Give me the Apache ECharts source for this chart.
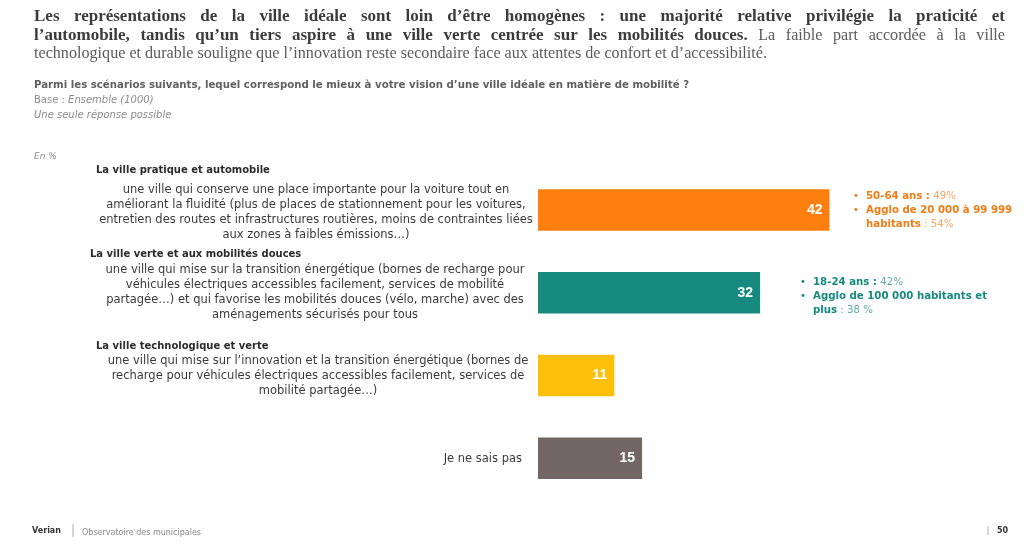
<!DOCTYPE html>
<html><head><meta charset="utf-8">
<script src="https://cdn.jsdelivr.net/npm/echarts@6/dist/echarts.min.js"></script>
<style>html,body{margin:0;padding:0;background:#fff}#c{width:1024px;height:548px}</style>
</head><body><div id="c"></div>
<script>
// ---- data ----
const categories = ['La ville pratique et automobile', 'La ville verte et aux mobilités douces', 'La ville technologique et verte', 'Je ne sais pas'];
const values = [42, 32, 11, 15];
const barColors = ['#FF7F0E', '#168A7E', '#FCBF0A', '#726764'];
const descriptions = [
  ['une ville qui conserve une place importante pour la voiture tout en',
   'améliorant la fluidité (plus de places de stationnement pour les voitures,',
   'entretien des routes et infrastructures routières, moins de contraintes liées',
   'aux zones à faibles émissions…)'],
  ['une ville qui mise sur la transition énergétique (bornes de recharge pour',
   'véhicules électriques accessibles facilement, services de mobilité',
   'partagée…) et qui favorise les mobilités douces (vélo, marche) avec des',
   'aménagements sécurisés pour tous'],
  ['une ville qui mise sur l’innovation et la transition énergétique (bornes de',
   'recharge pour véhicules électriques accessibles facilement, services de',
   'mobilité partagée…)'],
  []
];
const titleLines = [
  [{t: 'Les représentations de la ville idéale sont loin d’être homogènes : une majorité relative privilégie la praticité et', b: true}],
  [{t: 'l’automobile, tandis qu’un tiers aspire à une ville verte centrée sur les mobilités douces.', b: true},
   {t: 'La faible part accordée à la ville', b: false}],
  [{t: 'technologique et durable souligne que l’innovation reste secondaire face aux attentes de confort et d’accessibilité.', b: false}]
];
const question = 'Parmi les scénarios suivants, lequel correspond le mieux à votre vision d’une ville idéale en matière de mobilité ?';
const baseLabel = ['Base : ', 'Ensemble (1000)'];
const responseNote = 'Une seule réponse possible';
const unitNote = 'En %';
const highlights = [
  [['50-64 ans :', ' 49%'], ['Agglo de 20 000 à 99 999', ''], ['habitants', ' : 54%']],
  [['18-24 ans :', ' 42%'], ['Agglo de 100 000 habitants et', ''], ['plus', ' : 38 %']]
];
const footerBrand = 'Verian';
const footerText = 'Observatoire des municipales';
const pageNumber = '50';

// ---- layout ----
const chart = echarts.init(document.getElementById('c'));
const graphics = [];

// Title (justified serif text)
const cv = document.createElement('canvas').getContext('2d');
const TF = 17;
const serif = '"Liberation Serif", "DejaVu Serif", serif';
function fontStr(b) { return (b ? 'bold ' : '') + TF + 'px ' + serif; }
function words(line) {
  const out = [];
  line.forEach(seg => seg.t.split(' ').forEach(w => { if (w) out.push({w, b: seg.b}); }));
  return out;
}
function measure(w) { cv.font = fontStr(w.b); return cv.measureText(w.w).width; }
function space(b) { cv.font = fontStr(b); return cv.measureText(' ').width; }
const l3 = words(titleLines[2]);
const nat3 = l3.reduce((s, w) => s + measure(w), 0) + space(false) * (l3.length - 1);
const scaleB = 1;            // bold words
const scaleR = 733 / nat3;   // regular words (condensed face in the original)
titleLines.forEach((line, i) => {
  const ws = words(line);
  const widths = ws.map(w => measure(w) * (w.b ? scaleB : scaleR));
  const tot = widths.reduce((s, v) => s + v, 0);
  const gap = i < 2 ? (971 - tot) / (ws.length - 1) : space(false) * scaleR;
  let x = 34;
  ws.forEach((w, j) => {
    graphics.push({type: 'text', x: x, y: 17 + i * 18.5, scaleX: w.b ? scaleB : scaleR, style: {
      text: w.w, font: fontStr(w.b), fill: w.b ? '#3b3b3b' : '#5a5a5a', textVerticalAlign: 'middle'}});
    x += widths[j] + gap;
  });
});

const sans = '"DejaVu Sans", sans-serif';
graphics.push({type: 'text', x: 34, y: 85, style: {text: question, font: 'bold 10.2px ' + sans, fill: '#5f5f5f', textVerticalAlign: 'middle'}});
graphics.push({type: 'text', x: 34, y: 100, style: {
  text: '{r|' + baseLabel[0] + '}{i|' + baseLabel[1] + '}', textVerticalAlign: 'middle',
  rich: {r: {font: '10px ' + sans, fill: '#8a8a8a'}, i: {font: 'italic 10px ' + sans, fill: '#8a8a8a'}}}});
graphics.push({type: 'text', x: 34, y: 115, style: {text: responseNote, font: 'italic 10px ' + sans, fill: '#8a8a8a', textVerticalAlign: 'middle'}});
graphics.push({type: 'text', x: 34, y: 157, style: {text: unitNote, font: 'italic 9px ' + sans, fill: '#8a8a8a', textVerticalAlign: 'middle'}});

// Left labels
const titlePos = [[96, 170], [90, 254], [96, 346]];
const descStart = [190, 270, 361];
const descCenter = [316, 315, 318];
for (let k = 0; k < 3; k++) {
  graphics.push({type: 'text', x: titlePos[k][0], y: titlePos[k][1], style: {
    text: categories[k], font: 'bold 10px ' + sans, fill: '#2b2b2b', textVerticalAlign: 'middle'}});
  descriptions[k].forEach((ln, j) => {
    graphics.push({type: 'text', x: descCenter[k], y: descStart[k] + j * 15, style: {
      text: ln, font: '11.5px ' + sans, fill: '#3a3a3a', textAlign: 'center', textVerticalAlign: 'middle'}});
  });
}
graphics.push({type: 'text', x: 522, y: 459, style: {text: categories[3], font: '11.5px ' + sans, fill: '#3a3a3a', textAlign: 'right', textVerticalAlign: 'middle'}});

// Highlights
const hlPos = [[853, 196], [800, 282]];
const hlDark = ['#F07C15', '#168A7E'];
const hlLight = ['#F4A664', '#5FAEA5'];
highlights.forEach((hl, k) => {
  hl.forEach((row, j) => {
    const y = hlPos[k][1] + j * 14.2;
    if (j < 2) graphics.push({type: 'text', x: hlPos[k][0], y: y, style: {text: '•', font: '10px ' + sans, fill: hlDark[k], textVerticalAlign: 'middle'}});
    graphics.push({type: 'text', x: hlPos[k][0] + 13, y: y, style: {
      text: '{b|' + row[0] + '}' + (row[1] ? '{n|' + row[1] + '}' : ''), textVerticalAlign: 'middle',
      rich: {b: {font: 'bold 10.2px ' + sans, fill: hlDark[k]}, n: {font: '10.2px ' + sans, fill: hlLight[k]}}}});
  });
});

// Footer
graphics.push({type: 'text', x: 32, y: 531, style: {text: footerBrand, font: 'bold 8px ' + sans, fill: '#333', textVerticalAlign: 'middle'}});
graphics.push({type: 'line', shape: {x1: 73, y1: 524, x2: 73, y2: 537}, style: {stroke: '#999', lineWidth: 0.8}});
graphics.push({type: 'text', x: 82, y: 533, style: {text: footerText, font: '8px ' + sans, fill: '#888', textVerticalAlign: 'middle'}});
graphics.push({type: 'line', shape: {x1: 988, y1: 526, x2: 988, y2: 535}, style: {stroke: '#999', lineWidth: 0.8}});
graphics.push({type: 'text', x: 997, y: 531, style: {text: pageNumber, font: 'bold 8px ' + sans, fill: '#333', textVerticalAlign: 'middle'}});

chart.setOption({
  animation: false,
  backgroundColor: '#ffffff',
  grid: {left: 538, top: 168.7, width: 347, height: 330.8},
  xAxis: {type: 'value', min: 0, max: 50, show: false},
  yAxis: {type: 'category', data: categories, inverse: true, show: false},
  series: [{
    type: 'bar', barWidth: 41.5,
    data: values.map((v, i) => ({value: v, itemStyle: {color: barColors[i]}})),
    label: {show: true, position: 'insideRight', distance: 7, color: '#fff',
      fontFamily: '"Liberation Sans Narrow", "Liberation Sans", sans-serif', fontWeight: 'bold', fontSize: 14}
  }],
  graphic: graphics
});
</script></body></html>
